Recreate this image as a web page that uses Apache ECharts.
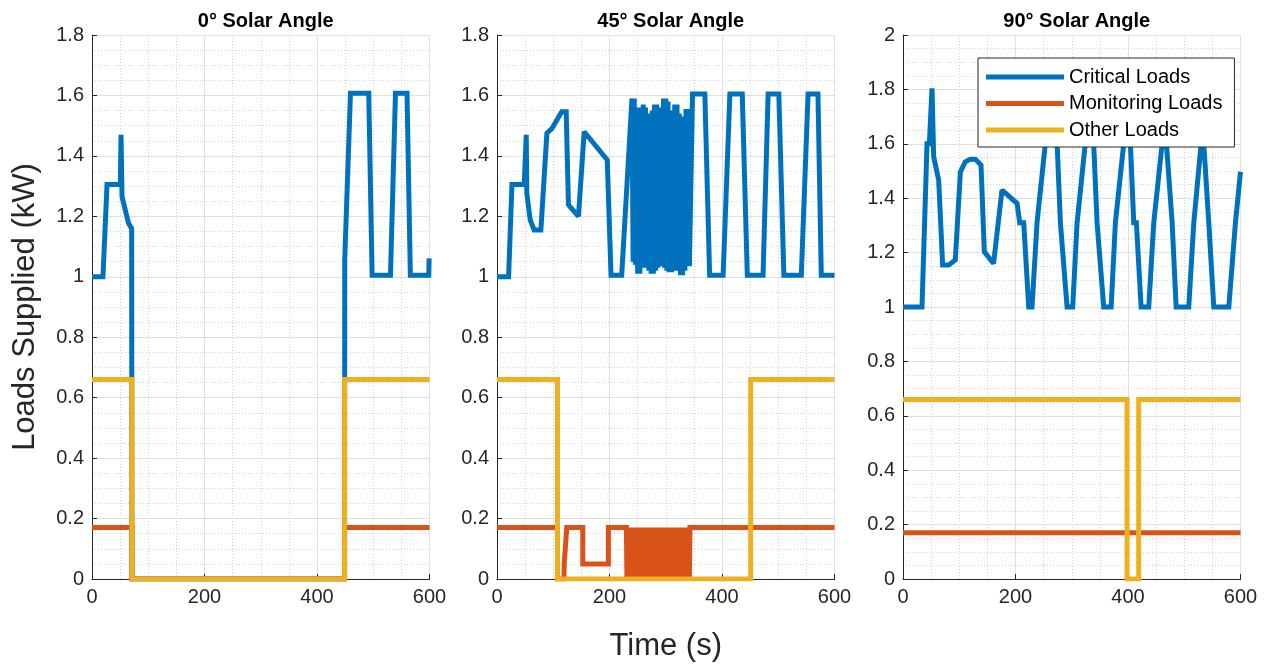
<!DOCTYPE html>
<html>
<head>
<meta charset="utf-8">
<title>Loads Supplied</title>
<script src="https://cdn.jsdelivr.net/npm/echarts@6/dist/echarts.min.js"></script>
<style>
  html, body { margin: 0; padding: 0; background: #fff; }
  #chart { width: 1269px; height: 664px; }
</style>
</head>
<body>
<div id="chart"></div>
<script>
// Panel titles and series names
const panelTitles = ['0\u00b0 Solar Angle', '45\u00b0 Solar Angle', '90\u00b0 Solar Angle'];
const seriesNames = ['Critical Loads', 'Monitoring Loads', 'Other Loads'];
const yMax = [1.8, 1.8, 2];

// 0° solar angle: [time (s), load (kW)]
const critical0 = [[0,1],[19.5,1],[26.7,1.305],[50.4,1.305],[51.6,1.47],[53.4,1.265],[59.3,1.22],[65,1.177],[70.5,1.16],[71,0],
  [449,0],[449.3,1.056],[459.5,1.607],[492,1.607],[498,1.005],[530.6,1.005],[539.5,1.607],[560,1.607],[566,1.005],[598.7,1.005],[599.3,1.061],[600,1.061]];
const monitoring0 = [[0,0.17],[71,0.17],[71,0],[449,0],[449,0.17],[600,0.17]];
const other0 = [[0,0.66],[71,0.66],[71,0],[449,0],[449,0.66],[600,0.66]];

// 45° solar angle
const critical45Start = [[0,1],[20.6,1],[26.6,1.305],[48.4,1.305],[52,1.47],[53,1.276],[59,1.188],[66,1.155],[78,1.155],[88.7,1.475],[97.5,1.49],[115,1.546],[123,1.546],[127,1.238],[144.8,1.2],[155,1.48],[196,1.387],[202.7,1.005],[221.7,1.005]];
// fast switching interval of the critical loads
const critical45Burst = [[240,1.59],[242,1.05],[244,1.59],[246,1.04],[248,1.56],[250,1.01],[252,1.55],[254,1.01],[256,1.56],[258,1.03],[260,1.57],[262,1.03],[264,1.56],[266,1.03],[268,1.54],[270,1.02],[272,1.54],[274,1.01],[276,1.55],[278,1.01],[280,1.57],[282,1.02],[284,1.57],[286,1.03],[288,1.56],[290,1.035],[292,1.55],[294,1.035],[296,1.59],[298,1.03],[300,1.59],[302,1.02],[304,1.58],[306,1.015],[308,1.55],[310,1.015],[312,1.55],[314,1.02],[316,1.57],[318,1.03],[320,1.57],[322,1.02],[324,1.54],[326,1.005],[328,1.53],[330,1.005],[332,1.53],[334,1.02],[336,1.555],[338,1.035],[340,1.555],[342,1.035]];
const critical45End = [[347.6,1.605],[369.5,1.605],[378,1.005],[402,1.005],[414,1.605],[436,1.605],[445,1.005],[473,1.005],[482,1.605],[501,1.605],[510,1.005],[541,1.005],[553,1.605],[570.6,1.605],[576.5,1.005],[600,1.005]];
const monitoring45Start = [[0,0.17],[107.5,0.17],[107.5,0],[119,0],[119.5,0.05],[123,0.05],[124,0.17],[152.5,0.17],[152.5,0.05],[198,0.05],[198,0.17],[230,0.17]];
// fast switching interval of the monitoring loads
const monitoring45Burst = [[231,0],[233,0.17],[235,0],[237,0.17],[239,0],[241,0.17],[243,0],[245,0.17],[247,0],[249,0.17],[251,0],[253,0.17],[255,0],[257,0.17],[259,0],[261,0.17],[263,0],[265,0.17],[267,0],[269,0.17],[271,0],[273,0.17],[275,0],[277,0.17],[279,0],[281,0.17],[283,0],[285,0.17],[287,0],[289,0.17],[291,0],[293,0.17],[295,0],[297,0.17],[299,0],[301,0.17],[303,0],[305,0.17],[307,0],[309,0.17],[311,0],[313,0.17],[315,0],[317,0.17],[319,0],[321,0.17],[323,0],[325,0.17],[327,0],[329,0.17],[331,0],[333,0.17],[335,0],[337,0.17],[339,0],[341,0.17],[342,0]];
const monitoring45End = [[343,0.17],[600,0.17]];
const other45 = [[0,0.66],[107.5,0.66],[107.5,0],[451,0],[451,0.66],[600,0.66]];

// 90° solar angle
const critical90 = [[0,1],[33.8,1],[42.7,1.6],[46.8,1.6],[51.6,1.804],[54.5,1.553],[63.4,1.467],[70.5,1.154],[81,1.154],[93,1.173],[102,1.497],[110.8,1.534],[119.7,1.543],[128.6,1.543],[138.7,1.522],[144.6,1.203],[161,1.16],[176,1.43],[202.8,1.381],[207.5,1.31],[214.6,1.31],[223.5,1],[229.4,1],[238.3,1.31],[253,1.6],[274,1.6],[279.8,1.31],[282.8,1.31],[291.7,1],[301.7,1],[309.5,1.31],[312.5,1.31],[324,1.6],[339,1.6],[345,1.31],[348,1.31],[356.8,1],[370,1],[377.6,1.31],[380.6,1.31],[392.4,1.6],[404.3,1.6],[410.2,1.31],[414.9,1.31],[423.3,1],[436.9,1],[445.8,1.31],[448.8,1.31],[460.7,1.6],[468.3,1.6],[478.5,1.31],[485.6,1],[508,1],[517,1.31],[520,1.31],[530,1.6],[534.7,1.6],[543.6,1.31],[552.5,1],[579.2,1],[591,1.31],[594,1.31],[600,1.497]];
const monitoring90 = [[0,0.17],[600,0.17]];
const other90 = [[0,0.66],[398.4,0.66],[398.4,0],[419,0],[419,0.66],[600,0.66]];

const panelData = [
  [critical0, monitoring0, other0],
  [critical45Start.concat(critical45Burst, critical45End), monitoring45Start.concat(monitoring45Burst, monitoring45End), other45],
  [critical90, monitoring90, other90]
];

const colors = ['#0072BD', '#D95319', '#EDB120'];
const font = "Arial, 'Liberation Sans', Helvetica, sans-serif";
const axisInk = '#262626';
const gridLefts = [92, 497, 903];
const gridWidth = 337.5;

const grids = gridLefts.map(l => ({ left: l, top: 35, width: gridWidth, height: 544, outerBoundsMode: 'none', containLabel: false }));

const xAxes = gridLefts.map((_, i) => ({
  type: 'value', gridIndex: i, min: 0, max: 600, interval: 200,
  axisLine: { show: true, onZero: false, lineStyle: { color: axisInk, width: 1 } },
  axisTick: { show: true, inside: true, length: 5, lineStyle: { color: axisInk } },
  axisLabel: { color: axisInk, fontSize: 20, fontFamily: font, margin: 8 },
  splitLine: { show: true, lineStyle: { color: '#dfdfdf', width: 1 } },
  minorTick: { show: false, splitNumber: 4 },
  minorSplitLine: { show: true, lineStyle: { color: '#d3d3d3', width: 1, type: [1, 2] } },
  name: i === 1 ? 'Time (s)' : '',
  nameLocation: 'middle', nameGap: 52,
  nameTextStyle: { color: axisInk, fontSize: 31, fontFamily: font }
}));

const yAxes = gridLefts.map((_, i) => ({
  type: 'value', gridIndex: i, min: 0, max: yMax[i], interval: 0.2,
  axisLine: { show: true, onZero: false, lineStyle: { color: axisInk, width: 1 } },
  axisTick: { show: true, inside: true, length: 5, lineStyle: { color: axisInk } },
  axisLabel: { color: axisInk, fontSize: 20, fontFamily: font, margin: 8 },
  splitLine: { show: true, lineStyle: { color: '#dfdfdf', width: 1 } },
  minorTick: { show: false, splitNumber: 4 },
  minorSplitLine: { show: true, lineStyle: { color: '#d3d3d3', width: 1, type: [1, 2] } },
  name: i === 0 ? 'Loads Supplied (kW)' : '',
  nameLocation: 'middle', nameGap: 51, nameRotate: 90,
  nameTextStyle: { color: axisInk, fontSize: 31, fontFamily: font }
}));

const series = [];
panelData.forEach((sets, p) => {
  sets.forEach((data, k) => {
    series.push({
      type: 'line', name: seriesNames[k], xAxisIndex: p, yAxisIndex: p,
      data: data, showSymbol: false, symbol: 'none', sampling: null,
      itemStyle: { color: colors[k] },
      lineStyle: { color: colors[k], width: 5, join: 'miter', miterLimit: 2, cap: 'butt' },
      emphasis: { disabled: true }, silent: true, z: 2 + k
    });
  });
});

const titles = panelTitles.map((t, i) => ({
  text: t, left: gridLefts[i] + gridWidth / 2, top: 6, textAlign: 'center',
  textStyle: { fontSize: 20, fontWeight: 'bold', color: '#000', fontFamily: font }
}));

const chart = echarts.init(document.getElementById('chart'), null, { renderer: 'canvas' });
chart.setOption({
  animation: false,
  backgroundColor: '#fff',
  title: titles,
  grid: grids,
  xAxis: xAxes,
  yAxis: yAxes,
  legend: {
    data: seriesNames, orient: 'vertical', left: 978, top: 58,
    padding: [9, 12, 7, 8], itemWidth: 78, itemHeight: 5, itemGap: 6.5, icon: 'rect',
    textStyle: { fontSize: 20, color: '#000', fontFamily: font, lineHeight: 20 },
    borderColor: axisInk, borderWidth: 1, backgroundColor: '#fff', selectedMode: false, z: 10
  },
  series: series
});
</script>
</body>
</html>
